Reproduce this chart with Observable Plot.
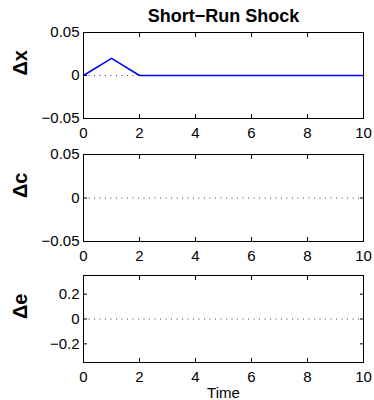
<!DOCTYPE html>
<html>
<head>
<meta charset="utf-8">
<script src="https://cdn.jsdelivr.net/npm/d3@7"></script>
<script src="https://cdn.jsdelivr.net/npm/@observablehq/plot@0.6"></script>
<style>
  html, body { margin: 0; padding: 0; background: white; }
  #chart { position: relative; width: 374px; height: 400px; }
  #chart svg { position: absolute; left: 0; overflow: visible; }
</style>
</head>
<body>
<div id="chart"></div>
<script>
const title = "Short−Run Shock";
const xLabel = "Time";
const time = [0, 1, 2, 3, 4, 5, 6, 7, 8, 9, 10];
const dx = [0, 0.02, 0, 0, 0, 0, 0, 0, 0, 0, 0];
const xTicks = [0, 2, 4, 6, 8, 10];
const panelLabels = ["Δx", "Δc", "Δe"];
const yDomains = [[-0.05, 0.05], [-0.05, 0.05], [-0.35, 0.35]];
const yTicksList = [[-0.05, 0, 0.05], [-0.05, 0, 0.05], [-0.2, 0, 0.2]];

const font = "'Liberation Sans', Arial, Helvetica, sans-serif";
const fmt = d => d === 0 ? "0" : (d < 0 ? "−" : "") + String(Math.abs(d));

const layouts = [
  {top: 0, height: 140, marginTop: 32, marginBottom: 22},
  {top: 140, height: 126, marginTop: 14, marginBottom: 25},
  {top: 266, height: 134, marginTop: 9, marginBottom: 38}
];

const chart = document.getElementById("chart");

for (let i = 0; i < 3; i++) {
  const L = layouts[i];
  const marks = [
    Plot.ruleY([0], {stroke: "#444", strokeWidth: 1, strokeDasharray: "1 4.5"}),
    Plot.axisX({anchor: "bottom", ticks: xTicks, tickSize: -4, tickPadding: 13, tickFormat: fmt, label: null, fontSize: 15}),
    Plot.axisX({anchor: "top", ticks: xTicks, tickSize: -4, tickFormat: () => "", label: null}),
    Plot.axisY({anchor: "left", ticks: yTicksList[i], tickSize: -4, tickPadding: 8, tickFormat: fmt, label: null, fontSize: 15}),
    Plot.axisY({anchor: "right", ticks: yTicksList[i], tickSize: -4, tickFormat: () => "", label: null}),
    Plot.text([panelLabels[i]], {text: d => d, frameAnchor: "left", dx: -63, rotate: -90, fontSize: 20, fontWeight: "bold", fill: "black"})
  ];
  if (i === 0) {
    marks.push(Plot.lineY(time.map((t, k) => ({t, v: dx[k]})), {x: "t", y: "v", stroke: "#0000ff", strokeWidth: 1.5}));
    marks.push(Plot.text([title], {text: d => d, frameAnchor: "top", lineAnchor: "middle", dy: -16.5, fontSize: 18, fontWeight: "bold", fill: "black"}));
  }
  if (i === 2) {
    marks.push(Plot.text([xLabel], {text: d => d, frameAnchor: "bottom", lineAnchor: "middle", dy: 31, fontSize: 15, fill: "black"}));
  }
  marks.push(Plot.frame({stroke: "black", strokeWidth: 1}));
  const svg = Plot.plot({
    width: 374,
    height: L.height,
    marginLeft: 83,
    marginRight: 11,
    marginTop: L.marginTop,
    marginBottom: L.marginBottom,
    style: {fontFamily: font, fontSize: "15px", color: "black", background: "transparent", overflow: "visible"},
    x: {domain: [0, 10]},
    y: {domain: yDomains[i]},
    marks
  });
  svg.style.top = L.top + "px";
  chart.appendChild(svg);
}
</script>
</body>
</html>
